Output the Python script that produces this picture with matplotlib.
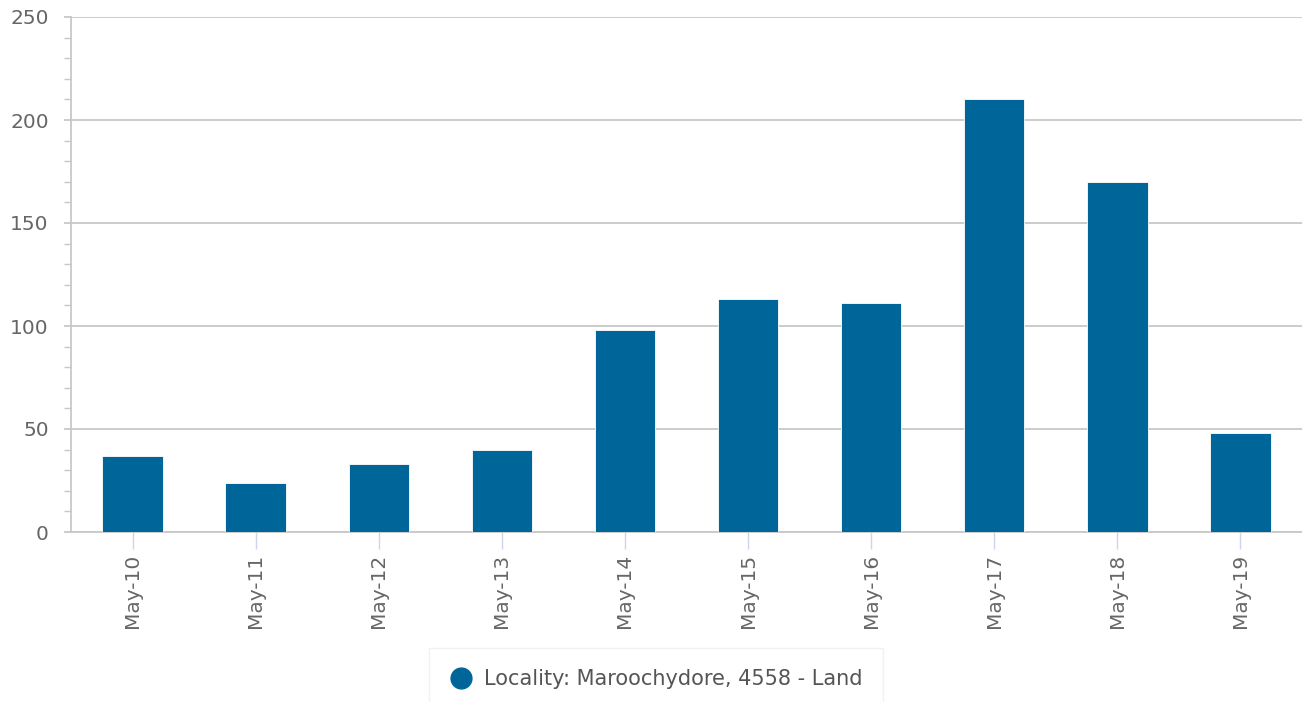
import matplotlib
matplotlib.use("Agg")
import matplotlib.pyplot as plt
from matplotlib.ticker import MultipleLocator
from matplotlib.lines import Line2D

# Data
dates = ["May-10", "May-11", "May-12", "May-13", "May-14",
         "May-15", "May-16", "May-17", "May-18", "May-19"]
counts = [37, 24, 33, 40, 98, 113, 111, 210, 170, 48]
series_name = "Locality: Maroochydore, 4558 - Land"

BAR = "#006699"
TEXT = "#666666"
GRID = "#c8c8c8"

fig = plt.figure(figsize=(13.02, 7.02), dpi=100)
ax = fig.add_axes([71 / 1302, 1 - 532 / 702, 1 - 71 / 1302, 515 / 702])

x = range(len(dates))
ax.bar(x, counts, width=0.49, color=BAR, edgecolor="white", linewidth=0.6,
       zorder=3)

ax.set_xlim(-0.5, len(dates) - 0.5)
ax.set_ylim(0, 250)
ax.yaxis.set_major_locator(MultipleLocator(50))
ax.yaxis.set_minor_locator(MultipleLocator(10))
ax.grid(axis="y", which="major", color=GRID, linewidth=1.3, zorder=0)

ax.set_xticks(list(x))
ax.set_xticklabels(dates, rotation=90)
ax.tick_params(axis="x", length=12, width=1, color="#ccd6eb", pad=4,
               labelsize=14.5, labelcolor=TEXT)
ax.tick_params(axis="y", which="major", length=5, width=1.3, color=GRID,
               pad=11, labelsize=14.5, labelcolor=TEXT)
ax.tick_params(axis="y", which="minor", length=5, width=1, color=GRID)

for side in ("top", "right"):
    ax.spines[side].set_visible(False)
ax.spines["left"].set_color(GRID)
ax.spines["left"].set_linewidth(1.3)
ax.spines["bottom"].set_color(GRID)
ax.spines["bottom"].set_linewidth(1.3)

handle = Line2D([], [], marker="o", linestyle="none", markersize=15,
                color=BAR)
leg = fig.legend([handle], [series_name], loc="upper center",
                 bbox_to_anchor=(0.504, 1 - 648 / 702), frameon=True,
                 fancybox=False, fontsize=15, handlelength=1.0,
                 handletextpad=0.6, borderpad=1.0, borderaxespad=0,
                 labelcolor="#555555")
leg.get_frame().set_edgecolor("#eeeeee")
leg.get_frame().set_linewidth(1)

fig.savefig("out.png", dpi=100)
